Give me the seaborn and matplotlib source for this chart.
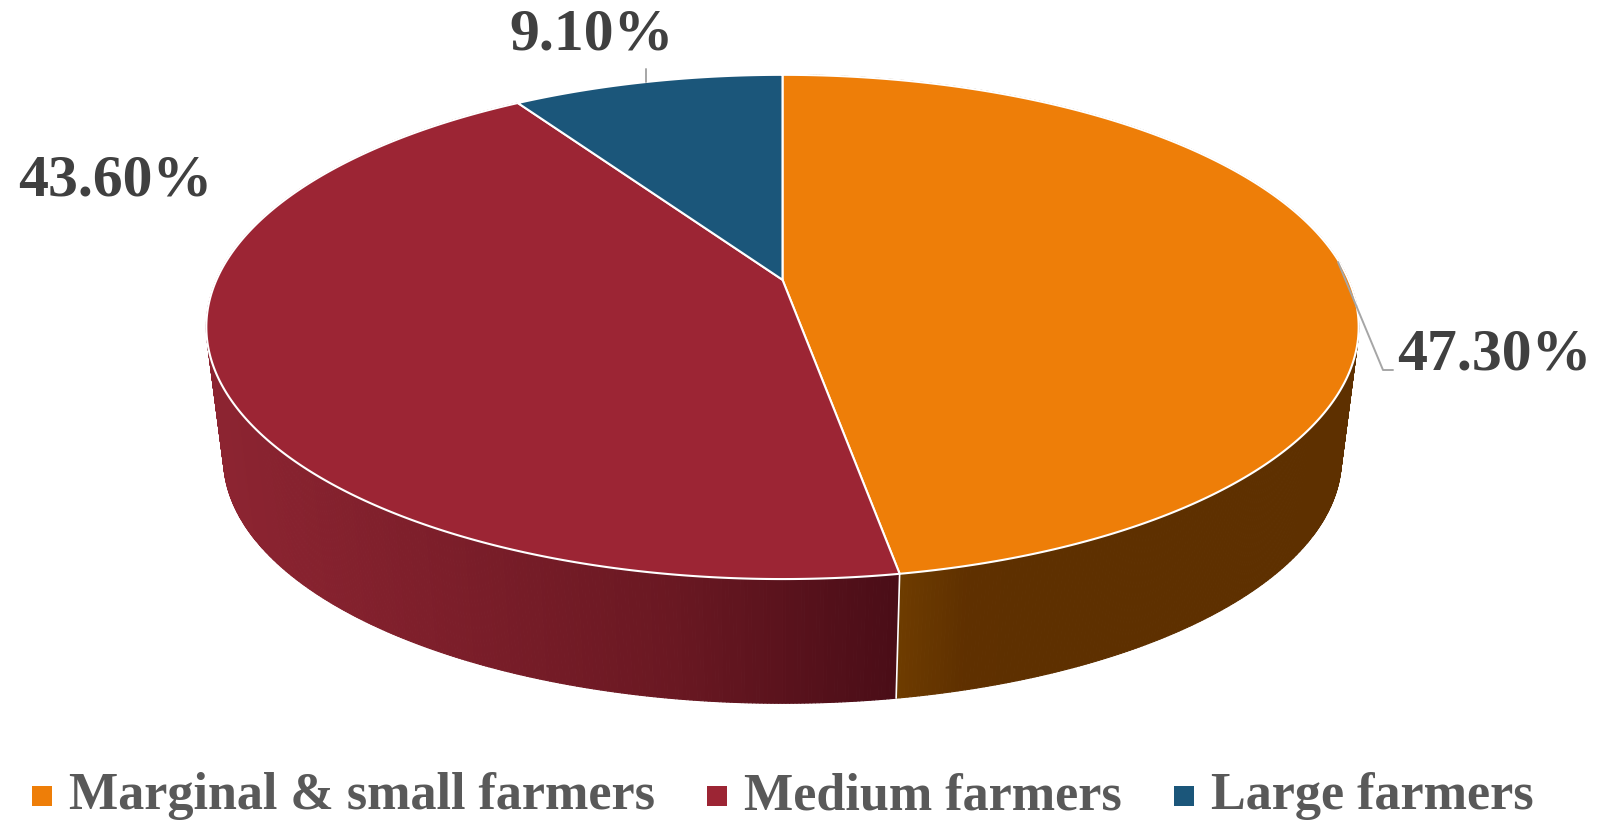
import numpy as np
import matplotlib
matplotlib.use("Agg")
import matplotlib.pyplot as plt
from matplotlib.patches import Polygon, Patch
from matplotlib.collections import PolyCollection
import seaborn as sns

categories = ["Marginal & small farmers", "Medium farmers", "Large farmers"]
shares = [47.3, 43.6, 9.1]
top_colors = ["#EE7E08", "#9C2534", "#1B567A"]
side_ramps = [["#6E3C00", "#5F3000", "#5E3000", "#5E3000"],
              ["#4A0D17", "#6A1822", "#7C1E2A", "#8C2431"]]

sns.set_theme(style="white")
plt.rcParams["font.family"] = ["Liberation Serif", "DejaVu Serif"]

# perspective geometry, in output pixels
CX, CY, A, B, K = 782.5, 279.8, 566.0, 243.3, 0.187
BOTTOM_SCALE, BOTTOM_CY = 0.97, 413.0


def project(theta, scale=1.0, cy=CY):
    X, Y = np.sin(theta), np.cos(theta)
    w = 1 + K * Y
    return CX + scale * A * X / w, cy - scale * B * Y / w


fig = plt.figure(figsize=(16.07, 8.21), dpi=100)
ax = fig.add_axes([0, 0, 1, 1])
ax.set_xlim(0, 1607)
ax.set_ylim(821, 0)
ax.axis("off")

edges = np.radians(np.cumsum([0] + shares) * 3.6)

# side wall as fine strips with a horizontal colour ramp
for i, ramp_colors in enumerate(side_ramps):
    th = np.linspace(edges[i], edges[i + 1], 500)
    tx, ty = project(th)
    bx, by = project(th, BOTTOM_SCALE, BOTTOM_CY)
    ramp = sns.blend_palette(ramp_colors, 256)
    quads, cols = [], []
    for j in range(len(th) - 1):
        quads.append([(tx[j], ty[j]), (tx[j + 1], ty[j + 1]), (bx[j + 1], by[j + 1]), (bx[j], by[j])])
        if i == 0:
            pos = (bx[j] - 897) / 200
        else:
            pos = (897 - bx[j]) / 660
        cols.append(ramp[int(np.clip(pos, 0, 1) * 255)])
    ax.add_collection(PolyCollection(quads, facecolors=cols, edgecolors=cols, linewidths=0.8, zorder=1))

# divider on the side wall
x0, y0 = project(edges[1])
x1, y1 = project(edges[1], BOTTOM_SCALE, BOTTOM_CY)
ax.plot([x0, x1], [y0, y1], color="white", lw=1.2, zorder=2)

# top face
for i, col in enumerate(top_colors):
    th = np.linspace(edges[i], edges[i + 1], 400)
    x, y = project(th)
    pts = np.column_stack([np.r_[CX, x], np.r_[CY, y]])
    ax.add_patch(Polygon(pts, closed=True, facecolor=col, edgecolor="white", lw=1.5, zorder=3, joinstyle="round"))

# data labels and leader lines
label_pos = [(1397, 370), (18, 196), (509, 50)]
for v, (lx, ly) in zip(shares, label_pos):
    ax.text(lx, ly, f"{v:.2f}%", fontsize=43, fontweight="bold", color="#404040",
            ha="left", va="baseline", zorder=5)
ax.plot([1338, 1383, 1393], [262, 370, 370], color="#A6A6A6", lw=1.4, zorder=4)
ax.plot([646, 646], [69, 82], color="#A6A6A6", lw=1.4, zorder=4)

# legend
handles = [Patch(facecolor=c, edgecolor="none") for c in top_colors]
leg = ax.legend(handles, categories, loc="lower left", bbox_to_anchor=(32 / 1607, 1 / 821),
                ncol=3, frameon=False, borderpad=0, borderaxespad=0,
                handlelength=0.39, handleheight=0.4, handletextpad=0.32, columnspacing=1.0,
                prop={"weight": "bold", "size": 37.5})
for t in leg.get_texts():
    t.set_color("#595959")
for p in leg.get_patches():
    p.set_y(2.2)
    p.set_height(14.4)
    p.set_width(14.4)

fig.savefig("out.png", dpi=100, facecolor="white")
